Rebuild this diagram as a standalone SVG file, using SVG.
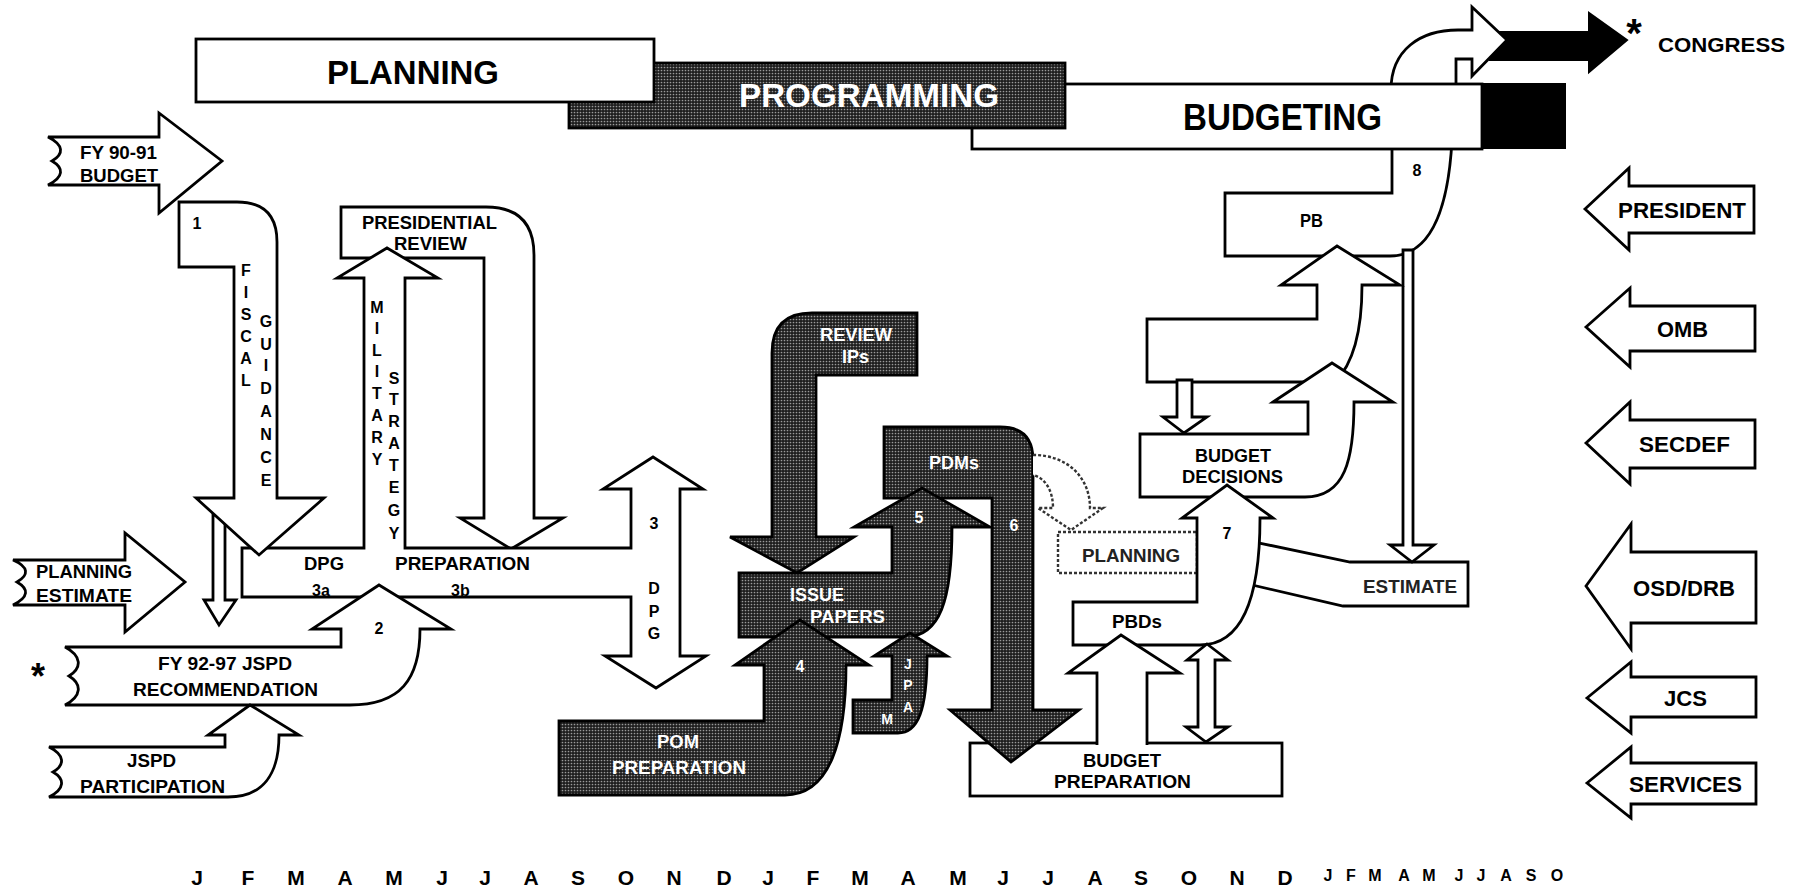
<svg xmlns="http://www.w3.org/2000/svg" width="1801" height="889" viewBox="0 0 1801 889">
<defs>
<pattern id="st" width="3" height="3" patternUnits="userSpaceOnUse"><rect width="3" height="3" fill="#1e1e1e"/><circle cx="1.5" cy="1.5" r="0.85" fill="#9a9a9a"/></pattern>
</defs>
<style>
.o{fill:#fff;stroke:#000;stroke-width:2.8;stroke-linejoin:miter}
.d{fill:url(#st);stroke:#000;stroke-width:2.8;stroke-linejoin:miter}
.k{fill:#000;stroke:#000;stroke-width:2}
.dt{fill:#fff;stroke:#333;stroke-width:2.4;stroke-dasharray:3 2}
text{font-family:"Liberation Sans",Arial,sans-serif;font-weight:bold;font-size:18px;fill:#000}
.w{fill:#fff}
.c{text-anchor:middle}
.v{font-size:16px;text-anchor:middle}
.n{font-size:16px;text-anchor:middle}
.mo{font-size:21px;text-anchor:middle}
.ms{font-size:16px;text-anchor:middle}
.a{font-size:22px}
.h{fill:#222}
</style>
<rect width="1801" height="889" fill="#fff"/>

<g id="connectors">
<path class="k" d="M1490 32 L1589 32 L1589 13 L1627 40 L1589 72 L1589 60 L1490 60 Z"/>
<path class="o" d="M1391 90 C1391 50 1420 30 1458 30 L1472 30 L1472 7 L1507 40 L1472 76 L1472 59 L1456 59 L1456 90"/>
<path class="o" d="M1392 140 L1392 193 L1225 193 L1225 256 L1390 256 C1428 256 1448 215 1452 140 Z"/>
</g>

<g id="band-budgeting">
<rect class="o" x="972" y="84" width="510" height="65"/>
<rect x="1482" y="83" width="84" height="66" fill="#000"/>
<text x="1183" y="130" style="font-size:36px" textLength="199" lengthAdjust="spacingAndGlyphs">BUDGETING</text>
</g>
<g id="band-programming">
<rect class="d" x="569" y="63" width="496" height="65"/>
<text class="w" x="739" y="107" style="font-size:33px" textLength="260" lengthAdjust="spacingAndGlyphs">PROGRAMMING</text>
</g>
<g id="band-planning">
<rect class="o" x="196" y="39" width="458" height="63"/>
<text x="327" y="84" style="font-size:33px" textLength="172" lengthAdjust="spacingAndGlyphs">PLANNING</text>
</g>
<g id="congress">
<text x="1634" y="47" class="c" style="font-size:40px">*</text>
<text x="1658" y="52" style="font-size:21px" textLength="127" lengthAdjust="spacingAndGlyphs">CONGRESS</text>
</g>

<g id="fy9091">
<path class="o" d="M48 137 L159 137 L159 113 L222 161 L159 213 L159 185 L48 185 C64 177 64 168 52 161 C64 154 64 145 48 137 Z"/>
<text x="80" y="159" textLength="77" lengthAdjust="spacingAndGlyphs">FY 90-91</text>
<text x="80" y="182" textLength="78" lengthAdjust="spacingAndGlyphs">BUDGET</text>
</g>

<g id="thin-fiscal">
<path class="o" d="M213 515 L225 515 L225 600 L236 600 L219 625 L204 600 L213 600 Z"/>
</g>

<g id="presidential-review">
<path class="o" d="M341 207 L486 207 Q534 207 534 255 L534 518 L563 518 L511 549 L460 518 L484 518 L484 258 L341 258 Z"/>
<text x="362" y="229" textLength="135" lengthAdjust="spacingAndGlyphs">PRESIDENTIAL</text>
<text x="394" y="250" textLength="73" lengthAdjust="spacingAndGlyphs">REVIEW</text>
</g>

<g id="dpg-band">
<path class="o" d="M242 548 L364 548 L364 278 L337 278 L387 248 L438 278 L405 278 L405 548 L631 548 L631 489 L603 489 L653 457 L703 489 L680 489 L680 656 L706 656 L656 688 L605 656 L631 656 L631 597 L242 597 Z"/>
<text x="304" y="570" textLength="40" lengthAdjust="spacingAndGlyphs">DPG</text>
<text x="395" y="570" textLength="135" lengthAdjust="spacingAndGlyphs">PREPARATION</text>
<text x="312" y="596" style="font-size:16px">3a</text>
<text x="451" y="596" style="font-size:16px">3b</text>
<text class="n" x="654" y="529">3</text>
<text class="v" x="654" y="594">D</text><text class="v" x="654" y="617">P</text><text class="v" x="654" y="639">G</text>
<text class="v" x="377" y="313">M</text><text class="v" x="377" y="334">I</text><text class="v" x="377" y="356">L</text><text class="v" x="377" y="377">I</text><text class="v" x="377" y="399">T</text><text class="v" x="377" y="421">A</text><text class="v" x="377" y="443">R</text><text class="v" x="377" y="465">Y</text>
<text class="v" x="394" y="384">S</text><text class="v" x="394" y="405">T</text><text class="v" x="394" y="427">R</text><text class="v" x="394" y="449">A</text><text class="v" x="394" y="471">T</text><text class="v" x="394" y="493">E</text><text class="v" x="394" y="516">G</text><text class="v" x="394" y="539">Y</text>
</g>

<g id="fiscal-guidance">
<path class="o" d="M179 202 L237 202 Q277 202 277 242 L277 498 L324 498 L259 555 L196 498 L234 498 L234 267 L179 267 Z"/>
<text class="n" x="197" y="229">1</text>
<text class="v" x="246" y="276">F</text><text class="v" x="246" y="298">I</text><text class="v" x="246" y="320">S</text><text class="v" x="246" y="342">C</text><text class="v" x="246" y="364">A</text><text class="v" x="246" y="386">L</text>
<text class="v" x="266" y="327">G</text><text class="v" x="266" y="350">U</text><text class="v" x="266" y="371">I</text><text class="v" x="266" y="394">D</text><text class="v" x="266" y="417">A</text><text class="v" x="266" y="440">N</text><text class="v" x="266" y="463">C</text><text class="v" x="266" y="486">E</text>
</g>

<g id="planning-estimate">
<path class="o" d="M13 560 L125 560 L125 533 L185 582 L125 632 L125 605 L13 605 C29 597 29 589 17 582 C29 575 29 567 13 560 Z"/>
<text x="36" y="578" textLength="96" lengthAdjust="spacingAndGlyphs">PLANNING</text>
<text x="36" y="602" textLength="96" lengthAdjust="spacingAndGlyphs">ESTIMATE</text>
</g>

<g id="jspd-recommendation">
<path class="o" d="M65 647 L341 647 L341 629 L312 629 L379 585 L451 629 L420 629 C420 680 400 705 350 705 L65 705 C82 696 82 684 69 676 C82 668 82 656 65 647 Z"/>
<text x="38" y="689" class="c" style="font-size:36px">*</text>
<text class="n" x="379" y="634">2</text>
<text x="158" y="670" textLength="134" lengthAdjust="spacingAndGlyphs">FY 92-97 JSPD</text>
<text x="133" y="696" textLength="185" lengthAdjust="spacingAndGlyphs">RECOMMENDATION</text>
</g>

<g id="jspd-participation">
<path class="o" d="M49 747 L225 747 L225 735 L208 735 L250 705 L299 735 L279 735 C279 775 262 797 228 797 L49 797 C65 789 65 779 53 772 C65 765 65 755 49 747 Z"/>
<text x="127" y="767" textLength="49" lengthAdjust="spacingAndGlyphs">JSPD</text>
<text x="80" y="793" textLength="145" lengthAdjust="spacingAndGlyphs">PARTICIPATION</text>
</g>

<g id="budget-preparation">
<rect class="o" x="970" y="743" width="312" height="53"/>
<text x="1083" y="767" textLength="78" lengthAdjust="spacingAndGlyphs">BUDGET</text>
<text x="1054" y="788" textLength="137" lengthAdjust="spacingAndGlyphs">PREPARATION</text>
</g>

<g id="review-ips">
<path class="d" d="M772 537 L772 353 Q772 313 812 313 L917 313 L917 375 L816 375 L816 537 L854 537 L797 573 L730 537 Z"/>
<text class="w" x="820" y="341" textLength="72" lengthAdjust="spacingAndGlyphs">REVIEW</text>
<text class="w" x="842" y="363" textLength="27" lengthAdjust="spacingAndGlyphs">IPs</text>
</g>

<g id="pdms">
<path class="d" d="M884 427 L1000 427 Q1033 427 1033 460 L1033 710 L1079 710 L1011 762 L950 710 L992 710 L992 498 L884 498 Z"/>
<text class="w" x="929" y="469" textLength="50" lengthAdjust="spacingAndGlyphs">PDMs</text>
<text class="n w" x="1014" y="531">6</text>
</g>

<g id="issue-papers">
<path class="d" d="M739 573 L892 573 L892 527 L854 527 L922 488 L990 527 L952 527 C952 600 940 637 905 637 L739 637 Z"/>
<text class="w" x="790" y="601" textLength="54" lengthAdjust="spacingAndGlyphs">ISSUE</text>
<text class="w" x="810" y="623" textLength="75" lengthAdjust="spacingAndGlyphs">PAPERS</text>
<text class="n w" x="919" y="523">5</text>
</g>

<g id="pom-preparation">
<path class="d" d="M559 721 L764 721 L764 665 L735 665 L800 620 L869 665 L846 665 C846 740 830 795 785 795 L559 795 Z"/>
<text class="w" x="657" y="748" textLength="42" lengthAdjust="spacingAndGlyphs">POM</text>
<text class="w" x="612" y="774" textLength="134" lengthAdjust="spacingAndGlyphs">PREPARATION</text>
<text class="n w" x="800" y="672">4</text>
</g>

<g id="jpam">
<path class="d" d="M853 700 L892 700 L892 656 L874 656 L910 633 L947 656 L927 656 C927 710 918 733 898 733 L853 733 Z"/>
<text class="w" x="908" y="669" text-anchor="middle" style="font-size:14px">J</text>
<text class="w" x="908" y="690" text-anchor="middle" style="font-size:14px">P</text>
<text class="w" x="908" y="712" text-anchor="middle" style="font-size:14px">A</text>
<text class="w" x="887" y="724" text-anchor="middle" style="font-size:14px">M</text>
</g>

<g id="planning-hatched">
<path class="dt" d="M1033 455 C1068 455 1090 478 1090 508 L1103 508 L1071 530 L1038 508 L1053 508 C1053 490 1045 478 1033 475"/>
<rect class="dt" x="1058" y="532" width="139" height="41"/>
<text class="h" x="1082" y="562" textLength="98" lengthAdjust="spacingAndGlyphs">PLANNING</text>
</g>

<g id="estimate">
<path class="o" d="M1235 538 L1350 562 L1468 562 L1468 606 L1343 606 L1235 581 Z"/>
<text class="h" x="1363" y="593" textLength="94" lengthAdjust="spacingAndGlyphs">ESTIMATE</text>
</g>

<g id="thin-estimate">
<path class="o" d="M1403 250 L1413 250 L1413 545 L1434 545 L1412 562 L1390 545 L1403 545 Z"/>
</g>

<g id="pb-labels">
<text x="1300" y="227" textLength="23" lengthAdjust="spacingAndGlyphs">PB</text>
<text class="n" x="1417" y="176">8</text>
</g>

<g id="upper-box">
<path class="o" d="M1147 319 L1317 319 L1317 285 L1281 285 L1337 246 L1400 285 L1362 285 C1362 335 1352 365 1335 382 L1147 382 Z"/>
</g>

<g id="thin-decisions">
<path class="o" d="M1177 380 L1192 380 L1192 417 L1207 417 L1184 433 L1163 417 L1177 417 Z"/>
</g>

<g id="budget-decisions">
<path class="o" d="M1140 434 L1308 434 L1308 402 L1273 402 L1332 363 L1393 402 L1354 402 C1354 460 1345 497 1305 497 L1140 497 Z"/>
<text x="1195" y="462" textLength="76" lengthAdjust="spacingAndGlyphs">BUDGET</text>
<text x="1182" y="483" textLength="101" lengthAdjust="spacingAndGlyphs">DECISIONS</text>
</g>

<g id="pbds">
<path class="o" d="M1073 602 L1197 602 L1197 518 L1182 518 L1227 485 L1273 518 L1260 518 C1260 590 1245 645 1200 645 L1073 645 Z"/>
<text x="1112" y="628" textLength="50" lengthAdjust="spacingAndGlyphs">PBDs</text>
<text class="n" x="1227" y="539">7</text>
</g>

<g id="pbds-arrows">
<path class="o" d="M1097 745 L1097 673 L1068 673 L1121 635 L1180 673 L1147 673 L1147 745"/>
<path class="o" d="M1207 644 L1228 660 L1215 660 L1215 727 L1228 727 L1206 742 L1186 727 L1198 727 L1198 660 L1187 660 Z"/>
</g>

<g id="actors">
<path class="o" d="M1585 209 L1629 168 L1629 186 L1754 186 L1754 233 L1629 233 L1629 250 Z"/>
<text class="a" x="1618" y="218" textLength="128" lengthAdjust="spacingAndGlyphs">PRESIDENT</text>
<path class="o" d="M1586 327 L1630 288 L1630 306 L1755 306 L1755 351 L1630 351 L1630 367 Z"/>
<text class="a" x="1657" y="337" textLength="51" lengthAdjust="spacingAndGlyphs">OMB</text>
<path class="o" d="M1586 443 L1630 402 L1630 420 L1755 420 L1755 468 L1630 468 L1630 484 Z"/>
<text class="a" x="1639" y="452" textLength="91" lengthAdjust="spacingAndGlyphs">SECDEF</text>
<path class="o" d="M1586 586 L1631 524 L1631 552 L1756 552 L1756 623 L1631 623 L1631 649 Z"/>
<text class="a" x="1633" y="596" textLength="102" lengthAdjust="spacingAndGlyphs">OSD/DRB</text>
<path class="o" d="M1587 698 L1631 662 L1631 677 L1756 677 L1756 717 L1631 717 L1631 733 Z"/>
<text class="a" x="1664" y="706" textLength="43" lengthAdjust="spacingAndGlyphs">JCS</text>
<path class="o" d="M1587 783 L1631 747 L1631 763 L1756 763 L1756 804 L1631 804 L1631 818 Z"/>
<text class="a" x="1629" y="792" textLength="113" lengthAdjust="spacingAndGlyphs">SERVICES</text>
</g>

<g id="months">
<text class="mo" x="197" y="885">J</text><text class="mo" x="248" y="885">F</text><text class="mo" x="296" y="885">M</text><text class="mo" x="345" y="885">A</text><text class="mo" x="394" y="885">M</text><text class="mo" x="442" y="885">J</text><text class="mo" x="485" y="885">J</text><text class="mo" x="531" y="885">A</text><text class="mo" x="578" y="885">S</text><text class="mo" x="626" y="885">O</text><text class="mo" x="674" y="885">N</text><text class="mo" x="724" y="885">D</text>
<text class="mo" x="768" y="885">J</text><text class="mo" x="813" y="885">F</text><text class="mo" x="860" y="885">M</text><text class="mo" x="908" y="885">A</text><text class="mo" x="958" y="885">M</text><text class="mo" x="1003" y="885">J</text><text class="mo" x="1048" y="885">J</text><text class="mo" x="1095" y="885">A</text><text class="mo" x="1141" y="885">S</text><text class="mo" x="1189" y="885">O</text><text class="mo" x="1237" y="885">N</text><text class="mo" x="1285" y="885">D</text>
<text class="ms" x="1328" y="881">J</text><text class="ms" x="1351" y="881">F</text><text class="ms" x="1375" y="881">M</text><text class="ms" x="1404" y="881">A</text><text class="ms" x="1429" y="881">M</text><text class="ms" x="1459" y="881">J</text><text class="ms" x="1481" y="881">J</text><text class="ms" x="1506" y="881">A</text><text class="ms" x="1531" y="881">S</text><text class="ms" x="1557" y="881">O</text>
</g>
</svg>
